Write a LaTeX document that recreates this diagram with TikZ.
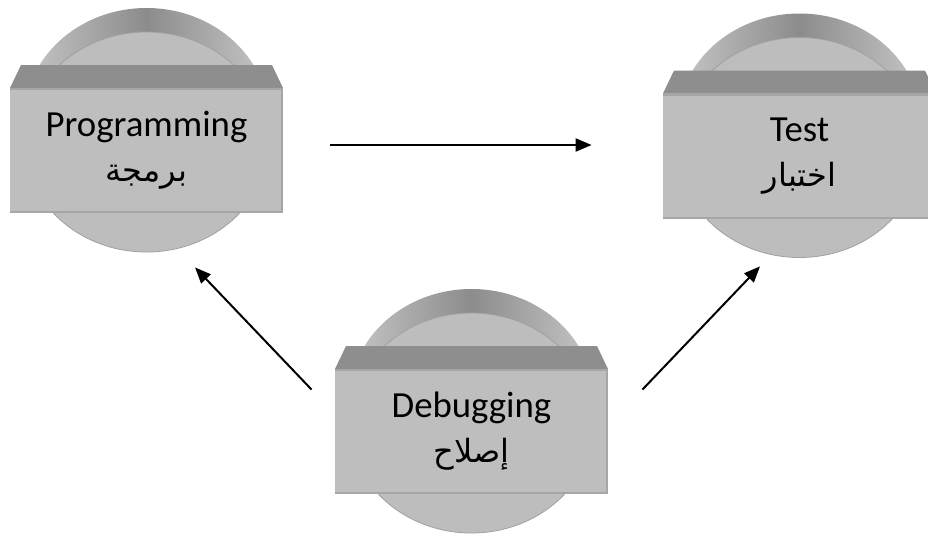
\documentclass[tikz,border=0pt]{standalone}
\usepackage{fontspec}
\setmainfont{Carlito}
\newfontfamily\arabicfont[Script=Arabic]{DejaVu Sans}
\TeXXeTstate=1
\usepackage{tikz}
\usetikzlibrary{arrows.meta,calc,positioning}

\definecolor{faceGray}{RGB}{190,190,190}
\definecolor{bevelGray}{RGB}{142,142,142}
\definecolor{seamGray}{RGB}{166,166,166}
\definecolor{rimLight}{RGB}{198,198,198}
\definecolor{rimDark}{RGB}{140,140,140}
\definecolor{discGray}{RGB}{189,189,189}

\tikzset{
	stagebox/.style={rectangle, fill=faceGray, minimum width=136.5pt, minimum height=62.5pt,
		inner sep=0pt, align=center, font=\fontsize{18.4}{22.5}\selectfont},
	flow/.style={line width=1pt, -{Triangle[length=8pt,width=6.5pt]}}
}

\begin{document}
\begin{tikzpicture}[x=0.5pt,y=-0.5pt]
		\clip (0,0) rectangle (928,537);
		\fill[white] (0,0) rectangle (928,537);

		% disc, lid and face of each stage
		\foreach \nm/\cx/\cy/\en/\ar in {prog/146.5/150.5/Programming/برمجة,
				test/799.5/156/Test/اختبار,
				debug/471.5/431.5/Debugging/إصلاح}{
			\shade[left color=rimLight, right color=rimLight, middle color=rimDark]
				(\cx,\cy-32.5) ellipse [x radius=122, y radius=110];
			\shade[left color=rimLight, right color=rimLight, middle color=rimDark]
				(\cx-122,\cy-32.5) rectangle (\cx+122,\cy-8.5);
			\fill[discGray] (\cx,\cy-8.5) ellipse [x radius=122, y radius=110];
			\draw[discGray!85!black, line width=0.4pt] (\cx,\cy-8.5) ellipse [x radius=122, y radius=110];

			\fill[bevelGray] (\cx-136.5,\cy-62.5) -- (\cx-125.5,\cy-85.5)
				-- (\cx+125.5,\cy-85.5) -- (\cx+136.5,\cy-62.5) -- cycle;
			\node[stagebox] (\nm) at (\cx,\cy) {\en\\{\arabicfont\fontsize{16}{22.5}\selectfont\beginR\ar\endR}};
			\draw[seamGray, line width=1.2pt] ([yshift=-0.6pt]\nm.north west) -- ([yshift=-0.6pt]\nm.north east);
			\draw[seamGray, line width=1.2pt] ([yshift=0.6pt]\nm.south west) -- ([yshift=0.6pt]\nm.south east);
			\draw[seamGray, line width=1pt] ([xshift=-0.5pt]\nm.north east) -- ([xshift=-0.5pt]\nm.south east);
		}

		% loose ends of the arrows
		\coordinate (p2t-a) at ($(prog.east)+(47,-5.5)$);
		\coordinate (p2t-b) at ($(test.west)+(-71,-11)$);
		\coordinate (d2p-a) at ($(debug.north west)+(-23,21)$);
		\coordinate (d2p-b) at ($(prog.south)+(48.5,54)$);
		\coordinate (d2t-a) at ($(debug.north east)+(34,21)$);
		\coordinate (d2t-b) at ($(test.south)+(-39.5,47.5)$);

		\draw[flow] (p2t-a) -- (p2t-b);
		\draw[flow] (d2p-a) -- (d2p-b);
		\draw[flow] (d2t-a) -- (d2t-b);
	\end{tikzpicture}
\end{document}
